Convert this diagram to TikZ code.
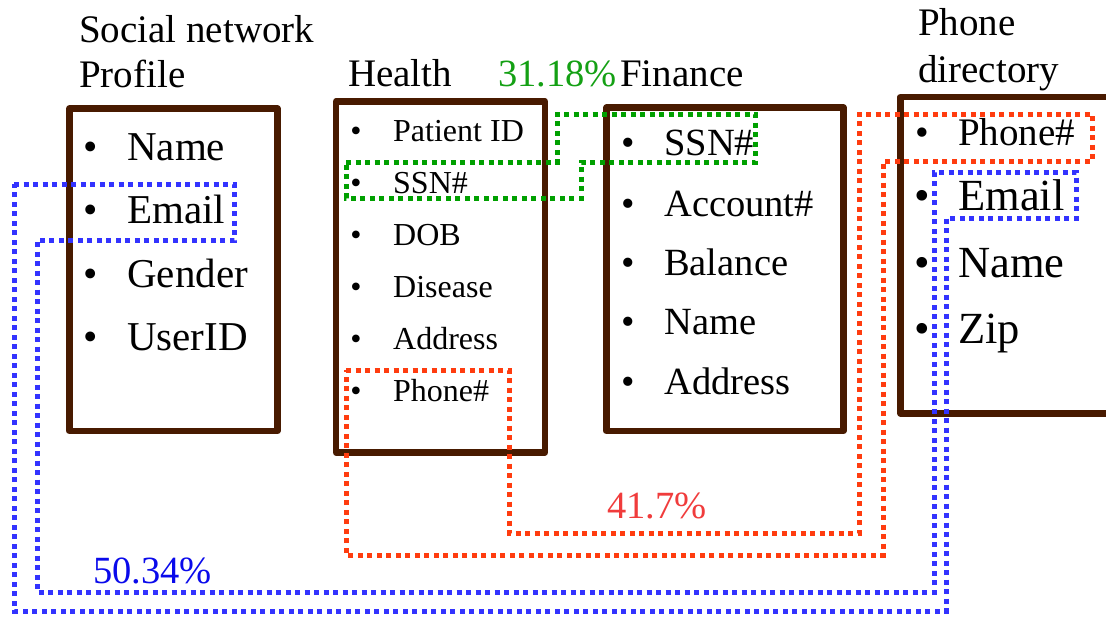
\documentclass[tikz,border=0pt]{standalone}
\usepackage{fontspec}
\setmainfont{Liberation Serif}
\definecolor{boxbrown}{RGB}{72,26,0}
\definecolor{dotblue}{RGB}{51,51,255}
\definecolor{dotgreen}{RGB}{0,160,0}
\definecolor{dotred}{RGB}{255,60,15}
\definecolor{txtblue}{RGB}{10,10,235}
\definecolor{txtgreen}{RGB}{20,160,20}
\definecolor{txtred}{RGB}{240,60,60}
\newcommand\fsTitle{\fontsize{39}{46}\selectfont}
\newcommand\fsOne{\fontsize{41}{48}\selectfont}
\newcommand\fsTwo{\fontsize{32}{38}\selectfont}
\newcommand\fsThree{\fontsize{38.5}{45}\selectfont}
\newcommand\fsFourA{\fontsize{39}{46}\selectfont}
\newcommand\fsFourB{\fontsize{44.5}{52}\selectfont}
\newcommand\fsPct{\fontsize{38.5}{45}\selectfont}
\begin{document}
\begin{tikzpicture}[x=1pt,y=-1pt,
  txt/.style={inner sep=0pt, anchor=base west, text=black},
  bul/.style={inner sep=0pt, anchor=base, text=black},
  frame/.style={draw=boxbrown, line width=6.5pt, line join=round, inner sep=0pt, outer sep=0pt, anchor=north west},
  dotline/.style={line width=5pt, dash pattern=on 5pt off 4.5pt, line join=miter}]
\useasboundingbox (0,0) rectangle (1106,618);
\begin{scope}
\clip (0,0) rectangle (1106,618);
% frames
\node[frame, minimum width=208pt, minimum height=322.5pt] (b1) at (69.5,108.5) {};
\node[frame, minimum width=209pt, minimum height=351pt] (b2) at (336,101.5) {};
\node[frame, minimum width=237pt, minimum height=323.5pt] (b3) at (606.5,107.5) {};
\node[frame, minimum width=240pt, minimum height=316.5pt] (b4) at (900.5,97) {};
\end{scope}
% titles
\node[txt, font=\fsTitle] (t1a) at (79,43) {Social network};
\node[txt, font=\fsTitle] (t1b) at (79,88) {Profile};
\node[txt, font=\fsTitle] (t2) at (348,86) {Health};
\node[txt, font=\fsTitle] (t3) at (620,86) {Finance};
\node[txt, font=\fsTitle] (t4a) at (918,36) {Phone};
\node[txt, font=\fsTitle] (t4b) at (918,82) {directory};
% box 1 items
\node[bul, font=\fsOne] (p1a) at (90.5,160) {•};
\node[txt, font=\fsOne] (i1a) at (127,160) {Name};
\node[bul, font=\fsOne] (p1b) at (90.5,223.5) {•};
\node[txt, font=\fsOne] (i1b) at (127,223.5) {Email};
\node[bul, font=\fsOne] (p1c) at (90.5,287) {•};
\node[txt, font=\fsOne] (i1c) at (127,287) {Gender};
\node[bul, font=\fsOne] (p1d) at (90.5,350.5) {•};
\node[txt, font=\fsOne] (i1d) at (127,350.5) {UserID};
% box 2 items
\node[bul, font=\fsTwo] (p2a) at (356,141) {•};
\node[txt, font=\fsTwo] (i2a) at (393,141) {Patient ID};
\node[bul, font=\fsTwo] (p2b) at (356,193) {•};
\node[txt, font=\fsTwo] (i2b) at (393,193) {SSN\#};
\node[bul, font=\fsTwo] (p2c) at (356,245) {•};
\node[txt, font=\fsTwo] (i2c) at (393,245) {DOB};
\node[bul, font=\fsTwo] (p2d) at (356,297) {•};
\node[txt, font=\fsTwo] (i2d) at (393,297) {Disease};
\node[bul, font=\fsTwo] (p2e) at (356,349) {•};
\node[txt, font=\fsTwo] (i2e) at (393,349) {Address};
\node[bul, font=\fsTwo] (p2f) at (356,401) {•};
\node[txt, font=\fsTwo] (i2f) at (393,401) {Phone\#};
% box 3 items
\node[bul, font=\fsThree] (p3a) at (628,155) {•};
\node[txt, font=\fsThree] (i3a) at (664,155) {SSN\#};
\node[bul, font=\fsThree] (p3b) at (628,216) {•};
\node[txt, font=\fsThree] (i3b) at (664,216) {Account\#};
\node[bul, font=\fsThree] (p3c) at (628,275.5) {•};
\node[txt, font=\fsThree] (i3c) at (664,275.5) {Balance};
\node[bul, font=\fsThree] (p3d) at (628,334) {•};
\node[txt, font=\fsThree] (i3d) at (664,334) {Name};
\node[bul, font=\fsThree] (p3e) at (628,394) {•};
\node[txt, font=\fsThree] (i3e) at (664,394) {Address};
% box 4 items
\node[bul, font=\fsFourA] (p4a) at (922,145) {•};
\node[txt, font=\fsFourA] (i4a) at (958,145) {Phone\#};
\node[bul, font=\fsFourB] (p4b) at (922,210) {•};
\node[txt, font=\fsFourB] (i4b) at (958,210) {Email};
\node[bul, font=\fsFourB] (p4c) at (922,277) {•};
\node[txt, font=\fsFourB] (i4c) at (958,277) {Name};
\node[bul, font=\fsFourB] (p4d) at (922,343) {•};
\node[txt, font=\fsFourB] (i4d) at (958,343) {Zip};
% dotted linkage outlines
\draw[dotline, draw=dotgreen] (346,162) -- (557,162) -- (557,114) -- (755,114) -- (755,162) -- (581,162) -- (581,198) -- (346,198) -- cycle;
\draw[dotline, draw=dotred] (346,370) -- (509,370) -- (509,533) -- (859,533) -- (859,114) -- (1092,114) -- (1092,161) -- (883,161) -- (883,555) -- (346,555) -- cycle;
\draw[dotline, draw=dotblue] (14,184) -- (234,184) -- (234,240) -- (37,240) -- (37,592) -- (934,592) -- (934,172) -- (1076,172) -- (1076,218) -- (946,218) -- (946,611) -- (14,611) -- cycle;
% percentages
\node[txt, font=\fsPct, text=txtgreen] (g) at (498,87) {31.18\%};
\node[txt, font=\fsPct, text=txtred] (r) at (607,518) {41.7\%};
\node[txt, font=\fsPct, text=txtblue] (b) at (93,583) {50.34\%};
\end{tikzpicture}
\end{document}
